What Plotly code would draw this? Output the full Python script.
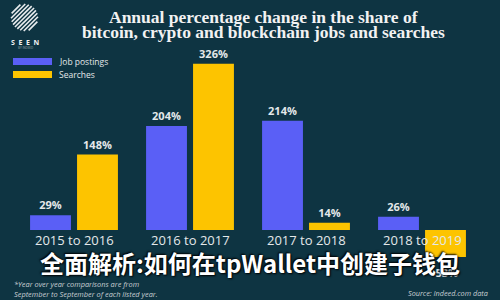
import math
import plotly.graph_objects as go

# ---- data ----
periods = ["2015 to 2016", "2016 to 2017", "2017 to 2018", "2018 to 2019"]
job_postings = [29, 204, 214, 26]
searches = [148, 326, 14, -53]
series_names = ["Job postings", "Searches"]
title_lines = ["Annual percentage change in the share of",
               "bitcoin, crypto and blockchain jobs and searches"]

BG = "#0e3442"
BLUE = "#5a5ff6"
YELLOW = "#fdc400"
TXT = "#e4e8ea"

W, H = 500, 300
ML, MR, MT, MB = 16, 20, 60, 30
PW, PH = W - ML - MR, H - MT - MB


def px(x):
    return (x - ML) / PW


def py(y):
    return 1 - (y - MT) / PH


fig = go.Figure()
annotations = []
for name, vals, col in [(series_names[0], job_postings, BLUE), (series_names[1], searches, YELLOW)]:
    labels = [f"{v}%" if v >= 0 else "" for v in vals]
    fig.add_trace(go.Bar(
        x=periods, y=vals, name=name, marker=dict(color=col, line=dict(width=0)),
        text=labels, textposition="outside", cliponaxis=False,
        textfont=dict(family="Open Sans", size=11, color=TXT, weight="bold"),
        constraintext="none", showlegend=False,
    ))
    # negative values: label placed further below the bar end
    for p, v in zip(periods, vals):
        if v < 0:
            annotations.append(dict(x=p, y=v, xref="x", yref="y", text=f"{v}%", showarrow=False,
                                    xanchor="center", yanchor="middle", yshift=-15, xshift=23,
                                    font=dict(family="Open Sans", size=11, color=TXT, weight="bold")))

for p in periods:
    annotations.append(dict(x=p, y=0, xref="x", yref="y", text=p, showarrow=False,
                            yanchor="middle", yshift=-10,
                            font=dict(family="Open Sans", size=13, color=TXT)))

# title (two separate lines for tight spacing)
for line, yc in zip(title_lines, [17, 32]):
    annotations.append(dict(x=px(263), y=py(yc), xref="paper", yref="paper", showarrow=False,
                            text=line, xanchor="center", yanchor="middle",
                            font=dict(family="Liberation Serif", size=17.5, color="#f2f2f2", weight="bold")))

# legend (custom)
shapes = []
for i, (name, col) in enumerate([(series_names[0], BLUE), (series_names[1], YELLOW)]):
    yc = 61.5 + i * 13
    shapes.append(dict(type="rect", xref="paper", yref="paper", x0=px(13), x1=px(52),
                       y0=py(yc - 3.5), y1=py(yc + 3.5), fillcolor=col, line=dict(width=0)))
    annotations.append(dict(x=px(57), y=py(yc), xref="paper", yref="paper", text=name,
                            showarrow=False, xanchor="left", yanchor="middle",
                            font=dict(family="Open Sans", size=8.5, color=TXT)))

# logo
cx, cy, r = 24.5, 17.5, 13.5
d = -r + 1.5
while d < r:
    half = math.sqrt(max(r * r - d * d, 0))
    nx, ny = 1 / math.sqrt(2), 1 / math.sqrt(2)
    dx, dy = 1 / math.sqrt(2), -1 / math.sqrt(2)
    x0 = cx + d * nx - half * dx
    y0 = cy + d * ny - half * dy
    x1 = cx + d * nx + half * dx
    y1 = cy + d * ny + half * dy
    shapes.append(dict(type="line", xref="paper", yref="paper", x0=px(x0), y0=py(y0),
                       x1=px(x1), y1=py(y1), line=dict(color="#e8ecee", width=1.6)))
    d += 3.0
annotations.append(dict(x=px(25), y=py(42.5), xref="paper", yref="paper", text="S  E  E  N",
                        showarrow=False, xanchor="center", yanchor="middle",
                        font=dict(family="Open Sans", size=7, color="#f2f2f2", weight="bold")))
annotations.append(dict(x=px(25), y=py(47.5), xref="paper", yref="paper", text="BY INDEED",
                        showarrow=False, xanchor="center", yanchor="middle",
                        font=dict(family="Open Sans", size=3, color="#9aa6ab")))

# footnotes
annotations.append(dict(x=px(12), y=py(288.5), xref="paper", yref="paper", showarrow=False,
                        text="<i>*Year over year comparisons are from<br>September to September of each listed year.</i>",
                        xanchor="left", yanchor="middle", align="left",
                        font=dict(family="Open Sans", size=7.4, color="#c9cfd3")))
annotations.append(dict(x=px(490), y=py(293), xref="paper", yref="paper", showarrow=False,
                        text="<i>Source: Indeed.com data</i>", xanchor="right", yanchor="middle",
                        font=dict(family="Open Sans", size=7.3, color="#c9cfd3")))

# overlay caption
annotations.append(dict(x=px(250), y=py(262), xref="paper", yref="paper", showarrow=False,
                        text="全面解析:如何在tpWallet中创建子钱包", xanchor="center", yanchor="middle",
                        font=dict(family="Noto Sans CJK SC", size=24, color="#ffffff", weight="bold",
                                  shadow="1px 1px 2px #000, -1px -1px 2px #000")))

y_lo = -40 / 0.51
y_hi = 170 / 0.51
fig.update_layout(
    width=W, height=H, margin=dict(l=ML, r=MR, t=MT, b=MB),
    paper_bgcolor=BG, plot_bgcolor=BG,
    barmode="group", bargap=0.19, bargroupgap=0.13,
    xaxis=dict(showticklabels=False, showgrid=False, zeroline=False, showline=False,
               range=[-0.5, 3.5], fixedrange=True),
    yaxis=dict(range=[y_lo, y_hi], showticklabels=False, showgrid=False, zeroline=False,
               showline=False, fixedrange=True),
    shapes=shapes, annotations=annotations, showlegend=False,
    uniformtext=dict(mode=False),
)
fig.write_html("out.html", config={"displayModeBar": False})
